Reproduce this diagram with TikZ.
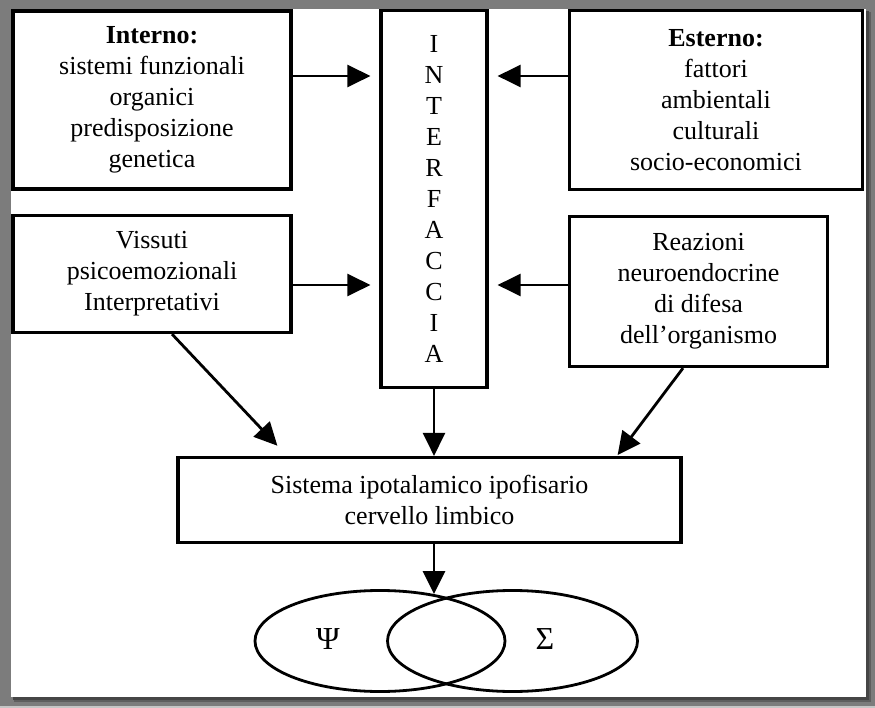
\documentclass[tikz,border=0pt]{standalone}
\usepackage{fontspec}
\setmainfont{Liberation Serif}
\usetikzlibrary{arrows.meta,shapes.geometric}
\definecolor{bggray}{HTML}{7C7C7C}
\definecolor{shadowA}{HTML}{5E5E5E}
\definecolor{shadowB}{HTML}{464646}
\definecolor{stripgray}{HTML}{C6C6C6}
\begin{document}
\begin{tikzpicture}[x=1pt,y=-1pt,
  box/.style={draw, line width=3.2pt, align=center, inner sep=0pt,
    font=\fontsize{26}{31}\selectfont},
  txt/.style={inner sep=0pt, font=\fontsize{32}{34}\selectfont},
  arr/.style={line width=2.8pt, -{Triangle[length=23pt,width=22pt]}},
  oval/.style={ellipse, draw, line width=2.8pt, inner sep=0pt,
    minimum width=250pt, minimum height=101pt},
]
\useasboundingbox (0,0) rectangle (875,708);
% window frame
\fill[bggray] (0,0) rectangle (875,708);
\fill[stripgray] (0,705.5) rectangle (875,708);
\fill[shadowA] (14,12) rectangle (871,702);
\fill[shadowB] (13,11) rectangle (869,700);
\fill[white] (11,9) rectangle (866,697);

% boxes
\node[box, minimum width=278pt, minimum height=178pt] (interno) at (152,100)
  {\textbf{Interno:}\\sistemi funzionali\\organici\\predisposizione\\genetica};
\node[box, minimum width=293pt, minimum height=179pt] (esterno) at (716,100)
  {\textbf{Esterno:}\\fattori\\ambientali\\culturali\\socio-economici};
\node[box, minimum width=278pt, minimum height=117pt] (vissuti) at (152,274)
  {Vissuti\\psicoemozionali\\Interpretativi};
\node[box, minimum width=258pt, minimum height=150pt] (reazioni) at (698.5,291.5)
  {Reazioni\\neuroendocrine\\di difesa\\dell’organismo};
\node[box, minimum width=106pt, minimum height=377pt] (interf) at (434,199)
  {I\\N\\T\\E\\R\\F\\A\\C\\C\\I\\A};
\node[box, minimum width=503pt, minimum height=85pt] (sistema) at (429.5,500)
  {Sistema ipotalamico ipofisario\\cervello limbico};

% ellipses
\node[oval] (psi) at (380,641) {};
\node[oval] (sig) at (512.5,641) {};
\node[txt] (psit) at (328,639) {Ψ};
\node[txt] (sigt) at (545,639) {Σ};

% helper coordinates
\coordinate (ya) at (0,76);
\coordinate (yb) at (0,285);
\coordinate (va) at (172,0);
\coordinate (vb) at (287,0);
\coordinate (ra) at (683,0);
\coordinate (rb) at (617,0);
\coordinate (tipc) at (434,594);

% connectors
\draw[arr, shorten >=9pt] (interno.east |- ya) -- (interf.west |- ya);
\draw[arr, shorten >=9pt] (esterno.west |- ya) -- (interf.east |- ya);
\draw[arr, shorten >=9pt] (vissuti.east |- yb) -- (interf.west |- yb);
\draw[arr, shorten >=9pt] (reazioni.west |- yb) -- (interf.east |- yb);
\draw[arr, shorten >=14pt] (vissuti.south -| va) -- (sistema.north -| vb);
\draw[arr, shorten >=1pt] (reazioni.south -| ra) -- (sistema.north -| rb);
\draw[arr] (interf.south) -- (interf.south |- sistema.north);
\draw[arr] (sistema.south -| interf.south) -- (tipc);
\end{tikzpicture}
\end{document}
